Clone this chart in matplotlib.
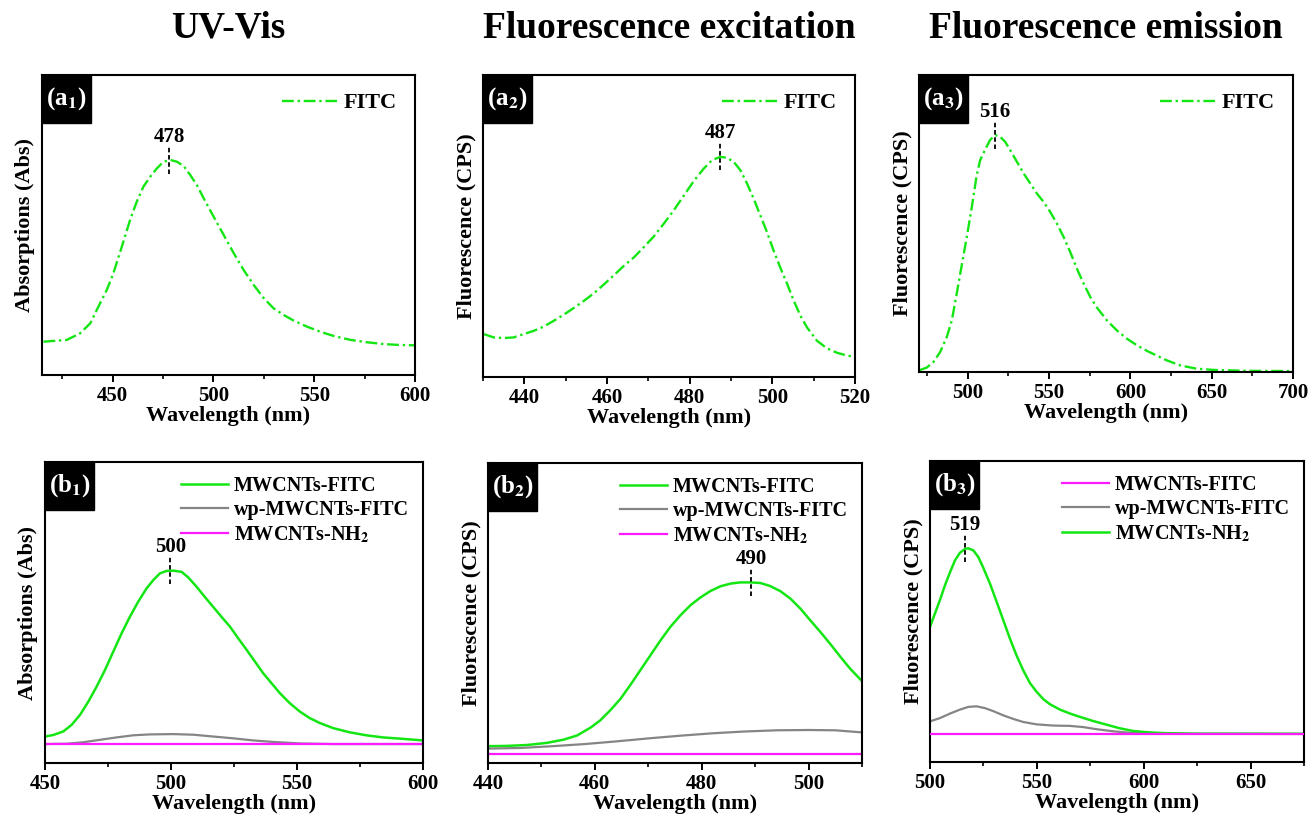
import numpy as np
import matplotlib
matplotlib.use('Agg')
import matplotlib.pyplot as plt
from matplotlib.patches import Rectangle
from matplotlib.ticker import MultipleLocator

plt.rc('font', family='Liberation Serif', weight='bold')
plt.rc('axes', labelweight='bold')
plt.rc('mathtext', fontset='stix')

W, H = 1309, 819

# ---- spectra (arbitrary units, 0..1 of the plot height) ----
# (a1) UV-Vis of FITC
uv_nm = [415.7, 427.3, 433.9, 438.9, 443.8, 447.1, 450.4, 454.6, 458.7, 462.0,
         465.3, 468.7, 472.0, 475.3, 478.6, 481.9, 485.2, 488.5, 491.8, 495.2,
         500.1, 505.1, 510.1, 515.0, 520.0, 525.0, 529.9, 534.9, 539.9, 546.5,
         553.1, 559.7, 568.0, 576.3, 584.6, 592.8, 599.5]
uv_fitc = [0.111, 0.117, 0.139, 0.172, 0.239, 0.283, 0.339, 0.428, 0.517, 0.578,
           0.628, 0.661, 0.689, 0.711, 0.717, 0.711, 0.697, 0.667, 0.633, 0.589,
           0.528, 0.467, 0.406, 0.350, 0.300, 0.256, 0.222, 0.200, 0.181, 0.161,
           0.144, 0.130, 0.117, 0.109, 0.103, 0.100, 0.099]

# (a2) fluorescence excitation of FITC
ex_nm = [430.2, 432.6, 435.0, 437.4, 439.8, 442.3, 444.7, 447.1, 449.5, 451.9,
         454.4, 456.8, 459.2, 461.6, 464.0, 466.5, 468.9, 471.3, 473.7, 476.1,
         478.6, 481.0, 483.4, 485.4, 487.4, 489.0, 490.7, 492.3, 493.9, 495.5,
         497.1, 498.7, 500.3, 501.9, 503.6, 505.2, 506.8, 508.4, 510.8, 513.2,
         515.7, 518.1, 520.0]
ex_fitc = [0.142, 0.131, 0.129, 0.131, 0.142, 0.153, 0.167, 0.186, 0.206, 0.228,
           0.252, 0.277, 0.306, 0.336, 0.367, 0.396, 0.430, 0.465, 0.507, 0.551,
           0.601, 0.649, 0.690, 0.718, 0.729, 0.726, 0.712, 0.684, 0.640, 0.590,
           0.535, 0.480, 0.419, 0.363, 0.308, 0.252, 0.203, 0.164, 0.120, 0.095,
           0.080, 0.071, 0.066]

# (a3) fluorescence emission of FITC
em_nm = [470.3, 474.8, 478.9, 483.0, 487.1, 490.2, 493.2, 496.3, 499.4, 502.5,
         505.5, 507.6, 510.7, 513.7, 516.8, 519.9, 523.0, 526.1, 530.2, 534.3,
         538.4, 542.5, 546.6, 550.7, 554.8, 558.9, 563.0, 567.1, 571.2, 575.3,
         579.4, 585.5, 591.7, 597.9, 604.0, 610.2, 616.3, 622.5, 630.7, 640.9,
         651.2, 671.7, 700]
em_fitc = [0.006, 0.015, 0.034, 0.067, 0.118, 0.174, 0.264, 0.360, 0.455, 0.556,
           0.663, 0.713, 0.749, 0.781, 0.798, 0.792, 0.775, 0.747, 0.708, 0.669,
           0.635, 0.601, 0.573, 0.539, 0.500, 0.455, 0.404, 0.348, 0.298, 0.253,
           0.217, 0.174, 0.140, 0.112, 0.090, 0.071, 0.055, 0.039, 0.022, 0.011,
           0.007, 0.004, 0.003]

# (b1) UV-Vis of the nanotubes
b1_nm = [450.0, 453.3, 457.3, 460.6, 463.9, 467.2, 470.5, 473.8, 477.1, 480.4,
         483.7, 487.0, 490.3, 493.0, 495.6, 498.2, 500.9, 504.2, 506.8, 510.1,
         513.4, 516.7, 520.0, 523.4, 526.7, 530.0, 533.3, 536.6, 539.9, 543.2,
         547.1, 551.1, 555.1, 559.0, 564.3, 570.9, 577.5, 584.1, 590.8, 600.0]
b1_fitc = [0.088, 0.093, 0.105, 0.127, 0.160, 0.204, 0.254, 0.309, 0.370, 0.431,
           0.486, 0.536, 0.580, 0.608, 0.630, 0.638, 0.639, 0.635, 0.617, 0.586,
           0.552, 0.519, 0.486, 0.453, 0.414, 0.376, 0.337, 0.298, 0.265, 0.232,
           0.199, 0.171, 0.149, 0.133, 0.116, 0.102, 0.092, 0.085, 0.081, 0.075]
b1_wp_nm = [450.0, 458.6, 465.2, 471.8, 478.4, 485.0, 491.6, 500.9, 508.8, 516.7,
            524.7, 532.6, 540.5, 551.1, 564.3, 600.0]
b1_wp = [0.063, 0.064, 0.069, 0.077, 0.085, 0.092, 0.095, 0.096, 0.094, 0.088,
         0.082, 0.075, 0.070, 0.065, 0.063, 0.063]
b1_nh2 = 0.063

# (b2) fluorescence excitation of the nanotubes
b2_nm = [440.0, 443.6, 447.3, 451.0, 454.2, 456.7, 459.2, 461.0, 462.9, 464.8,
         466.6, 468.5, 470.4, 472.3, 474.1, 476.0, 477.9, 479.7, 481.6, 483.5,
         485.4, 487.2, 489.1, 491.0, 492.8, 494.7, 496.6, 498.5, 500.3, 502.2,
         504.1, 506.0, 507.8, 510.0]
b2_fitc = [0.056, 0.057, 0.060, 0.067, 0.078, 0.092, 0.118, 0.142, 0.176, 0.214,
           0.259, 0.309, 0.359, 0.409, 0.453, 0.492, 0.526, 0.551, 0.573, 0.589,
           0.598, 0.602, 0.602, 0.600, 0.590, 0.573, 0.548, 0.514, 0.476, 0.437,
           0.396, 0.353, 0.314, 0.273]
b2_wp_nm = [440, 446, 452, 458, 464, 470, 476, 482, 488, 494, 500, 505, 510]
b2_wp = [0.048, 0.050, 0.056, 0.063, 0.072, 0.082, 0.091, 0.099, 0.105, 0.109,
         0.110, 0.109, 0.102]
b2_nh2 = 0.031

# (b3) fluorescence emission of the nanotubes
b3_nm = [500.0, 502.3, 504.7, 507.0, 509.4, 511.7, 514.0, 516.4, 517.9, 520.3,
         522.6, 524.9, 528.1, 531.2, 534.3, 537.4, 540.5, 543.6, 546.8, 549.9,
         553.0, 556.1, 560.8, 565.5, 570.1, 576.4, 582.6, 588.8, 595.1, 601.3,
         609.1, 624.7, 648.0, 675.0]
b3_green = [0.449, 0.493, 0.539, 0.587, 0.631, 0.670, 0.695, 0.708, 0.710, 0.703,
            0.681, 0.646, 0.592, 0.532, 0.471, 0.410, 0.354, 0.305, 0.262, 0.233,
            0.209, 0.192, 0.174, 0.161, 0.150, 0.136, 0.124, 0.112, 0.103, 0.099,
            0.096, 0.094, 0.094, 0.094]
b3_wp_nm = [500.0, 504.7, 509.4, 514.0, 517.9, 521.8, 525.7, 529.6, 534.3, 539.0,
            543.6, 549.9, 557.7, 565.4, 571.7, 577.9, 585.7, 593.5, 609.1, 675.0]
b3_wp = [0.135, 0.146, 0.161, 0.174, 0.183, 0.185, 0.179, 0.169, 0.155, 0.143,
         0.133, 0.125, 0.121, 0.120, 0.116, 0.109, 0.102, 0.097, 0.094, 0.093]
b3_magenta = 0.092

# peak markers: where the dash is drawn and the text shown
peak_nm = [478, 487.4, 516.5, 499.8, 489.3, 516.4]
peak_text = ['478', '487', '516', '500', '490', '519']

col_titles = ['UV-Vis', 'Fluorescence excitation', 'Fluorescence emission']

GREEN = '#14e614'
GRAY = '#858585'
MAGENTA = '#ff1aff'
DASHDOT = (0, (5, 1.6, 1, 1.6))


def px_axes(fig, x0, y0, x1, y1):
    """Add axes given a pixel box (top-left origin)."""
    ax = fig.add_axes([x0 / W, 1 - y1 / H, (x1 - x0) / W, (y1 - y0) / H])
    ax._px = (x1 - x0, y1 - y0)
    return ax


def style_axes(ax, xlim, major, minor, ylabel, tag):
    ax.set_xlim(*xlim)
    ax.set_ylim(0, 1)
    ax.set_yticks([])
    ax.xaxis.set_major_locator(MultipleLocator(major))
    ax.xaxis.set_minor_locator(MultipleLocator(minor))
    ax.tick_params(axis='x', which='major', direction='out', length=5,
                   width=1.4, labelsize=15, pad=3)
    ax.tick_params(axis='x', which='minor', direction='out', length=3, width=1.2)
    for s in ax.spines.values():
        s.set_linewidth(1.5)
    ax.set_xlabel('Wavelength (nm)', fontsize=16, labelpad=0)
    ax.set_ylabel(ylabel, fontsize=16, labelpad=5)

    # black corner tag with white text
    bw = 49 / ax._px[0]
    bh = 48 / ax._px[1]
    ax.add_patch(Rectangle((0, 1 - bh), bw, bh, transform=ax.transAxes,
                           facecolor='black', edgecolor='black', zorder=5))
    ax.text(bw / 2, 1 - bh / 2, tag, transform=ax.transAxes, color='white',
            fontsize=18, ha='center', va='center', zorder=6)


def mark_peak(ax, x, nm, vals, label):
    y = np.interp(x, nm, vals)
    ax.plot([x, x], [y - 0.045, y + 0.045], color='black', lw=1.3,
            ls=(0, (2.5, 1.5)), zorder=4)
    ax.text(x, y + 0.045, label, ha='center', va='bottom', fontsize=15)


fig = plt.figure(figsize=(W / 100, H / 100), dpi=100)

a1 = px_axes(fig, 42, 75, 415, 375)
a2 = px_axes(fig, 483, 75, 855, 377)
a3 = px_axes(fig, 919, 75, 1293, 372)
b1 = px_axes(fig, 45, 462, 423, 763)
b2 = px_axes(fig, 488, 463, 862, 763)
b3 = px_axes(fig, 930, 461, 1304, 762)

# ---- top row: FITC alone ----
top = [(a1, uv_nm, uv_fitc, (415, 600), 50, 25, 'Absorptions (Abs)', r'(a$_\mathbf{1}$)'),
       (a2, ex_nm, ex_fitc, (430, 520), 20, 10, 'Fluorescence (CPS)', r'(a$_\mathbf{2}$)'),
       (a3, em_nm, em_fitc, (470, 700), 50, 25, 'Fluorescence (CPS)', r'(a$_\mathbf{3}$)')]
for i, (ax, nm, vals, xlim, mj, mn, ylab, tag) in enumerate(top):
    ax.plot(nm, vals, color=GREEN, lw=1.7, ls=DASHDOT, label='FITC')
    style_axes(ax, xlim, mj, mn, ylab, tag)
    mark_peak(ax, peak_nm[i], nm, vals, peak_text[i])
    ax.legend(loc='upper right', frameon=False, fontsize=16, handlelength=2.5,
              handletextpad=0.3, borderaxespad=0.4)

# ---- bottom row: nanotubes ----
b1.plot(b1_nm, b1_fitc, color=GREEN, lw=1.8, label='MWCNTs-FITC')
b1.plot(b1_wp_nm, b1_wp, color=GRAY, lw=1.6, label='wp-MWCNTs-FITC')
b1.plot([450, 600], [b1_nh2, b1_nh2], color=MAGENTA, lw=1.6,
        label=r'MWCNTs-NH$_\mathbf{2}$')
style_axes(b1, (450, 600), 50, 25, 'Absorptions (Abs)', r'(b$_\mathbf{1}$)')
mark_peak(b1, peak_nm[3], b1_nm, b1_fitc, peak_text[3])

b2.plot(b2_nm, b2_fitc, color=GREEN, lw=1.8, label='MWCNTs-FITC')
b2.plot(b2_wp_nm, b2_wp, color=GRAY, lw=1.6, label='wp-MWCNTs-FITC')
b2.plot([440, 510], [b2_nh2, b2_nh2], color=MAGENTA, lw=1.6,
        label=r'MWCNTs-NH$_\mathbf{2}$')
style_axes(b2, (440, 510), 20, 10, 'Fluorescence (CPS)', r'(b$_\mathbf{2}$)')
mark_peak(b2, peak_nm[4], b2_nm, b2_fitc, peak_text[4])

b3.plot([500, 675], [b3_magenta, b3_magenta], color=MAGENTA, lw=1.6,
        label='MWCNTs-FITC', zorder=3)
b3.plot(b3_wp_nm, b3_wp, color=GRAY, lw=1.6, label='wp-MWCNTs-FITC', zorder=2)
b3.plot(b3_nm, b3_green, color=GREEN, lw=1.8, label=r'MWCNTs-NH$_\mathbf{2}$',
        zorder=2)
style_axes(b3, (500, 675), 50, 25, 'Fluorescence (CPS)', r'(b$_\mathbf{3}$)')
mark_peak(b3, peak_nm[5], b3_nm, b3_green, peak_text[5])

for ax in (b1, b2, b3):
    ax.legend(loc='upper right', frameon=False, fontsize=14.5, handlelength=2.3,
              handletextpad=0.3, labelspacing=0.2, borderaxespad=0.3)

# column titles
for ax, title in zip((a1, a2, a3), col_titles):
    pos = ax.get_position()
    fig.text(pos.x0 + pos.width / 2, 1 - 28 / H, title, ha='center',
             va='center', fontsize=27)

plt.savefig('out.png', dpi=100)
plt.close()
